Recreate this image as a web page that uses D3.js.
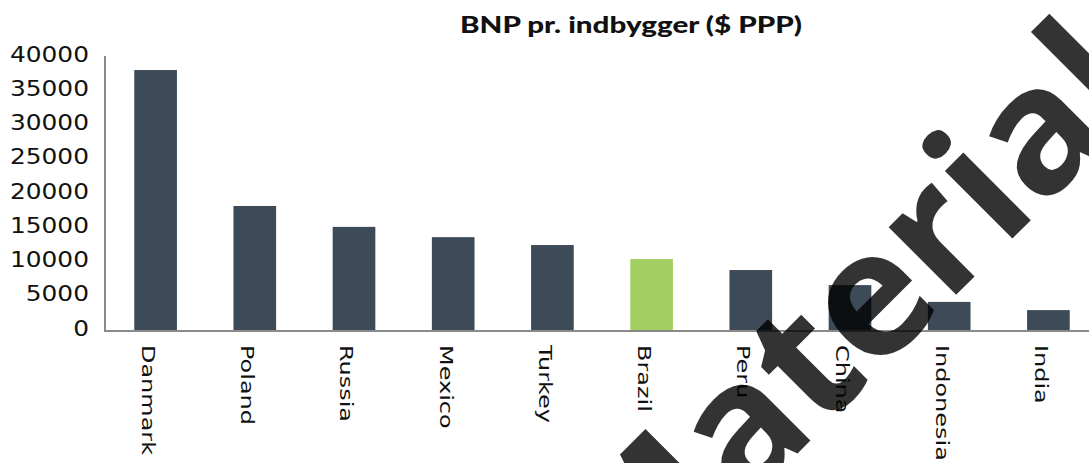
<!DOCTYPE html>
<html>
<head>
<meta charset="utf-8">
<script src="https://d3js.org/d3.v7.min.js"></script>
<style>
  body { margin: 0; background: #fff; }
  svg { display: block; }
</style>
</head>
<body>
<script>
// Chart data
var countries = ["Danmark", "Poland", "Russia", "Mexico", "Turkey", "Brazil", "Peru", "China", "Indonesia", "India"];
var gdpPerCapita = [38100, 18250, 15200, 13700, 12550, 10500, 8900, 6700, 4250, 3050];
var highlight = "Brazil";
var yTicks = [0, 5000, 10000, 15000, 20000, 25000, 30000, 35000, 40000];
var title = "BNP pr. indbygger ($ PPP)";
var watermark = "Material";

var data = countries.map((c, i) => ({ country: c, value: gdpPerCapita[i] }));

// SVG size
var width = 1089, height = 463;
var plot = { left: 106, right: 1098, top: 57, bottom: 331 };

var svg = d3.select("body")
    .append("svg")
    .attr("width", width)
    .attr("height", height);

// Scales
var x = d3.scaleBand()
    .domain(countries)
    .range([plot.left, plot.right])
    .paddingInner(0.57)
    .paddingOuter(0.285);

var y = d3.scaleLinear()
    .domain([0, 40000])
    .range([plot.bottom, plot.top]);

// Bars
svg.append("g")
    .selectAll("rect")
    .data(data)
    .join("rect")
    .attr("x", d => x(d.country))
    .attr("y", d => y(d.value))
    .attr("width", x.bandwidth())
    .attr("height", d => y(0) - y(d.value))
    .attr("fill", d => d.country === highlight ? "#a3cf62" : "#3d4a58");

// Y axis (labels only, line drawn below)
var yAxis = svg.append("g")
    .attr("transform", `translate(${plot.left - 1},0)`)
    .call(d3.axisLeft(y).tickValues(yTicks).tickSize(0).tickPadding(0).tickFormat(d3.format("d")));
yAxis.select(".domain").remove();
yAxis.selectAll("text")
    .attr("x", 0)
    .attr("dy", "0.32em")
    .attr("transform", "translate(-16,-3) scale(1.13,1)")
    .style("font-family", "DejaVu Sans")
    .style("font-size", "22px")
    .attr("fill", "#111");

// Axis lines
svg.append("line")
    .attr("x1", plot.left - 1).attr("x2", plot.left - 1)
    .attr("y1", plot.top - 1).attr("y2", plot.bottom + 1)
    .attr("stroke", "#8a8a8a").attr("stroke-width", 2);
svg.append("line")
    .attr("x1", plot.left - 2).attr("x2", width)
    .attr("y1", plot.bottom).attr("y2", plot.bottom)
    .attr("stroke", "#8a8a8a").attr("stroke-width", 2);

// X labels, rotated
svg.append("g")
    .selectAll("text")
    .data(countries)
    .join("text")
    .attr("transform", d => `translate(${x(d) + x.bandwidth() / 2},345) rotate(90) scale(1.41,1)`)
    .attr("y", 13.5)
    .style("font-family", "DejaVu Sans")
    .style("font-size", "17px")
    .attr("fill", "#111")
    .text(d => d);

// Title
svg.append("text")
    .attr("x", 631)
    .attr("y", 33)
    .attr("text-anchor", "middle")
    .attr("textLength", 342)
    .attr("lengthAdjust", "spacingAndGlyphs")
    .style("font-family", "Lato")
    .style("font-weight", 900)
    .style("font-size", "23px")
    .attr("fill", "#111")
    .text(title);

// Watermark, anchored at its end (the "l")
svg.append("text")
    .attr("text-anchor", "end")
    .attr("transform", "translate(1153,98) rotate(-45)")
    .style("font-family", "Open Sans")
    .style("font-weight", 700)
    .style("font-size", "175px")
    .attr("fill", "#000")
    .attr("fill-opacity", 0.8)
    .text(watermark);
</script>
</body>
</html>
